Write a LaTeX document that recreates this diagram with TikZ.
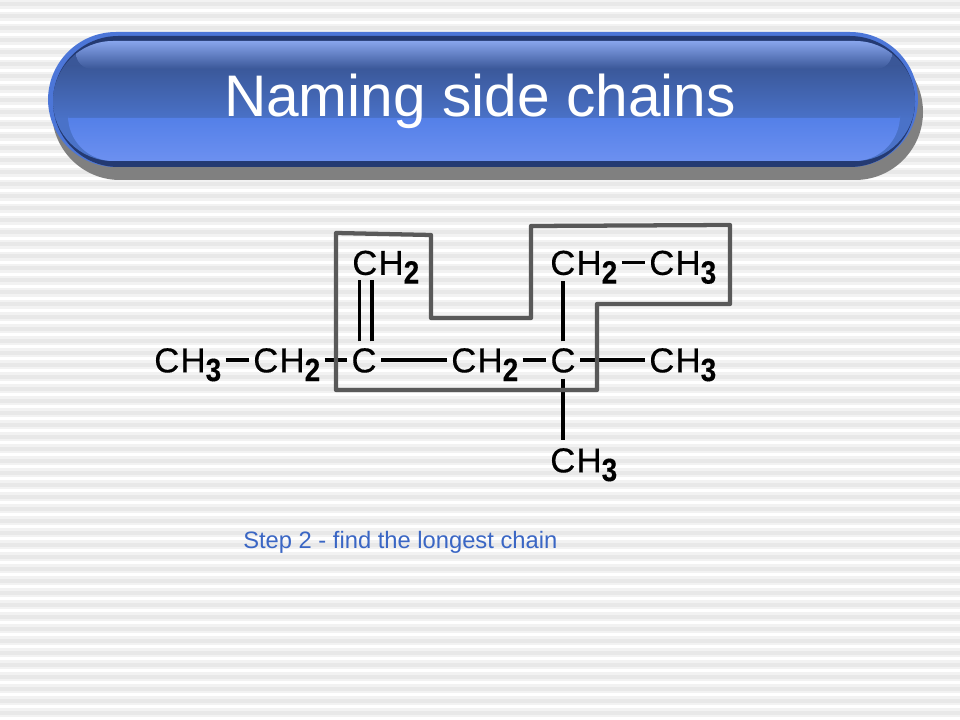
\documentclass[tikz,border=0pt]{standalone}
\usepackage{graphicx}
\usepackage{fontspec}
\setmainfont{Liberation Sans}
\newfontfamily\atomfont{Liberation Sans}[FakeBold=0.3]
\definecolor{bandouter}{HTML}{4C76D8}
\definecolor{bandnavy}{HTML}{243A72}
\definecolor{bandtop}{HTML}{3A5798}
\definecolor{bandmid}{HTML}{4A72C8}
\definecolor{glowtop}{HTML}{5480E8}
\definecolor{glowbot}{HTML}{6C90F0}
\definecolor{shinetop}{HTML}{88A5EC}
\definecolor{stepblue}{HTML}{3A66C4}
\definecolor{chainbox}{HTML}{595959}
\newcommand{\subnum}[1]{\raisebox{-6.5pt}{\scalebox{1}[1.15]{\fontsize{21}{21}\bfseries\selectfont #1}}}
\newcommand{\chgroup}[1]{C\kern1pt H\subnum{#1}}
\tikzset{
  atom/.style={anchor=west, inner xsep=3pt, inner ysep=0pt, text height=22pt, text depth=3.4pt, font=\atomfont\fontsize{26}{28}\selectfont},
  carbon/.style={atom, anchor=center, inner xsep=3.5pt},
  bond/.style={draw, black, line width=2.3pt},
  stripe/.style={fill=#1, draw=none}
}

\begin{document}
\begin{tikzpicture}[x=0.75pt,y=-0.75pt]
\useasboundingbox (0,0) rectangle (960,720);
\fill[white] (0,0) rectangle (960,720);
% background stripes
\foreach \k in {0,...,59} {
  \fill[stripe=black!5] (0,\k*12) rectangle (960,\k*12+9);
  \fill[stripe=black!9] (0,\k*12+2.5) rectangle (960,\k*12+6.5);
}

% title band
\fill[black!50] (52,44) [rounded corners=51pt] rectangle (923,180);
\fill[bandouter] (48,32) [rounded corners=51pt] rectangle (918,167);
\fill[bandnavy] (53,36) [rounded corners=49pt] rectangle (915,167);
\begin{scope}
\clip (53,41) [rounded corners=45pt] rectangle (915,161);
\fill[bandtop] (53,41) rectangle (915,67);
\shade[top color=bandtop, bottom color=bandmid] (53,66) rectangle (915,119);
\fill[bandmid] (53,118) rectangle (915,161);
\shade[top color=shinetop, bottom color=bandtop, rounded corners=12pt] (76,41) rectangle (892,69);
\shade[top color=glowtop, bottom color=glowbot] (900,118) [rounded corners=34pt] -- (900,161) -- (68,161) -- (68,118);
\end{scope}
\node (title) [white, anchor=base, inner sep=0pt, font=\fontsize{44}{48}\selectfont] at (480,117) {Naming side chains};

% molecule
\node (CA) [atom] at (150,360) {\chgroup{3}};
\node (CB) [atom] at (249,360) {\chgroup{2}};
\node (CC) [carbon] at (364,360) {C};
\node (CD) [atom] at (447,360) {\chgroup{2}};
\node (CE) [carbon] at (563,360) {C};
\node (CF) [atom] at (645,360) {\chgroup{3}};
\node (CG) [atom] at (348,262.5) {\chgroup{2}};
\node (CH) [atom] at (546,262.5) {\chgroup{2}};
\node (CI) [atom] at (645,262.5) {\chgroup{3}};
\node (CJ) [atom] at (546,460) {\chgroup{3}};

\path [bond] (CA) -- (CB);
\path [bond] (CB) -- (CC);
\path [bond] (CC) -- (CD);
\path [bond] (CD) -- (CE);
\path [bond] (CE) -- (CF);
\path [bond] (CH) -- (CI);
\path [bond] ([xshift=-3.5pt,yshift=1pt]CC.north) -- ([xshift=-3.5pt]CC.north |- CG.south);
\path [bond] ([xshift=6pt,yshift=1pt]CC.north) -- ([xshift=6pt]CC.north |- CG.south);
\path [bond] ([yshift=1pt]CE.north) -- ([yshift=-1pt]CE.north |- CH.south);
\path [bond] ([yshift=-1pt]CE.south) -- ([yshift=2.25pt]CE.south |- CJ.north);

% longest chain outline
\draw[chainbox, line width=3.2pt, line join=round] (336,233) -- (431,235) -- (431,318) -- (531,318) -- (531,226) -- (730,225) -- (730,304) -- (597,304) -- (597,390) -- (336,390) -- cycle;

\node (step) [stepblue, anchor=west, inner sep=0pt, font=\fontsize{17.8}{20}\selectfont] at (243,542) {Step 2 - find the longest chain};
\end{tikzpicture}
\end{document}
